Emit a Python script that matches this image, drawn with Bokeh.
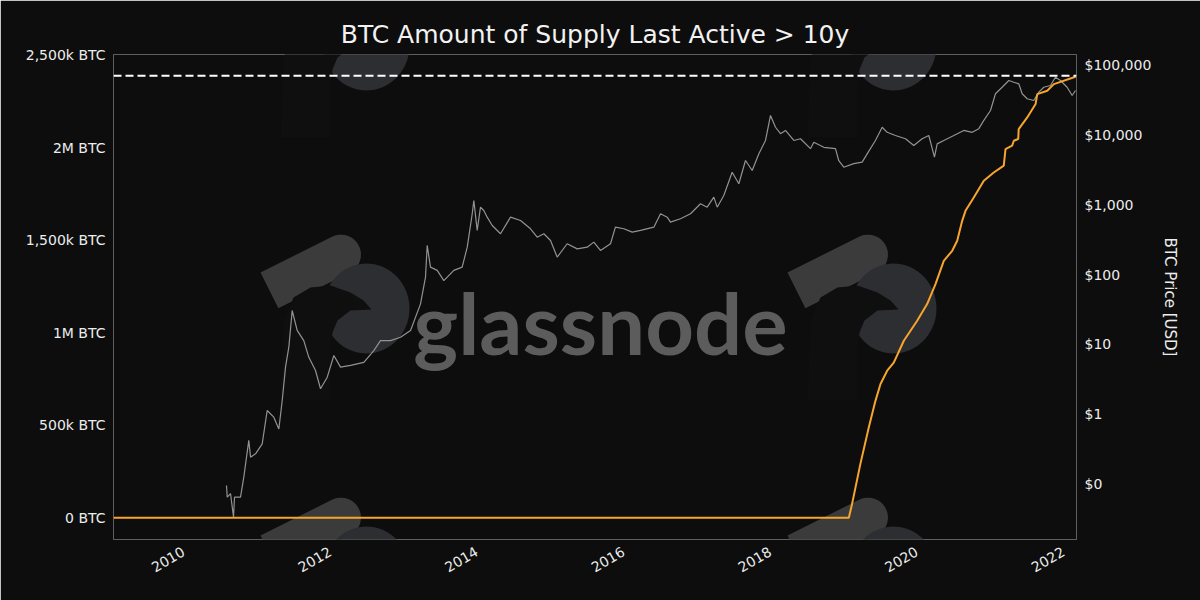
import numpy as np
from bokeh.plotting import figure
from bokeh.models import (Range1d, LogScale, LogAxis, FixedTicker,
                          NumeralTickFormatter, Span)
from bokeh.embed import file_html
from bokeh.resources import INLINE
from bokeh.core.properties import value

# ---------------- data ----------------
title_text = "BTC Amount of Supply Last Active > 10y"

year_ticks = [2010, 2012, 2014, 2016, 2018, 2020, 2022]
year_labels = ["2010", "2012", "2014", "2016", "2018", "2020", "2022"]

btc_ticks = [0, 500000, 1000000, 1500000, 2000000, 2500000]
btc_tick_labels = ["0 BTC", "500k BTC", "1M BTC", "1,500k BTC", "2M BTC", "2,500k BTC"]

price_ticks = [0.1, 1, 10, 100, 1000, 10000, 100000]

# supply last active > 10y (thousand BTC)
supply_year = [2009.045, 2019.073, 2019.117, 2019.23, 2019.345, 2019.436, 2019.505,
               2019.596, 2019.686, 2019.823, 2020.005, 2020.141, 2020.255, 2020.368,
               2020.483, 2020.551, 2020.619, 2020.664, 2020.777, 2020.914, 2021.05,
               2021.186, 2021.21, 2021.30, 2021.323, 2021.383, 2021.39, 2021.506,
               2021.62, 2021.643, 2021.779, 2021.869, 2022.165]
supply_btc_k = [0, 0, 74, 290, 488, 632, 723, 795, 839, 957, 1065, 1155, 1263, 1389,
                1443, 1497, 1605, 1659, 1731, 1822, 1866, 1903, 1993, 2011, 2038, 2047,
                2101, 2164, 2236, 2290, 2308, 2344, 2384]

threshold_k = 2389

# BTC price (USD)
price_year = [2010.586, 2010.596, 2010.641, 2010.682, 2010.695, 2010.777, 2010.822, 2010.89,
              2010.914, 2010.982, 2011.073, 2011.141, 2011.231, 2011.30, 2011.346, 2011.391,
              2011.436, 2011.482, 2011.55, 2011.64, 2011.709, 2011.80, 2011.868, 2011.96,
              2012.05, 2012.141, 2012.277, 2012.459, 2012.595, 2012.686, 2012.823, 2012.959,
              2013.096, 2013.232, 2013.30, 2013.323, 2013.368, 2013.46, 2013.55, 2013.686,
              2013.80, 2013.869, 2013.937, 2013.959, 2014.005, 2014.05, 2014.095, 2014.141,
              2014.21, 2014.323, 2014.459, 2014.596, 2014.732, 2014.823, 2014.914, 2015.005,
              2015.096, 2015.232, 2015.369, 2015.505, 2015.595, 2015.686, 2015.823, 2015.89,
              2016.005, 2016.119, 2016.232, 2016.414, 2016.505, 2016.596, 2016.641, 2016.777,
              2016.914, 2017.05, 2017.141, 2017.232, 2017.278, 2017.368, 2017.482, 2017.573,
              2017.664, 2017.755, 2017.846, 2017.937, 2018.005, 2018.073, 2018.141, 2018.209,
              2018.323, 2018.414, 2018.55, 2018.595, 2018.732, 2018.891, 2018.936, 2019.004,
              2019.14, 2019.255, 2019.323, 2019.436, 2019.528, 2019.596, 2019.709, 2019.846,
              2019.959, 2020.073, 2020.164, 2020.241, 2020.278, 2020.368, 2020.505, 2020.641,
              2020.755, 2020.846, 2020.914, 2021.005, 2021.073, 2021.164, 2021.255, 2021.323,
              2021.391, 2021.437, 2021.505, 2021.595, 2021.664, 2021.732, 2021.823, 2021.891,
              2021.96, 2022.05, 2022.119, 2022.164]
price_usd = [0.094, 0.064, 0.072, 0.033, 0.064, 0.064, 0.124, 0.417, 0.240, 0.268, 0.373,
             1.12, 0.90, 0.61, 1.56, 4.69, 9.08, 30.5, 15.8, 11.3, 6.5, 4.2, 2.3, 3.37, 6.9,
             4.7, 4.97, 5.5, 8.1, 11.3, 11.3, 12.6, 15.8, 38, 92, 262, 128, 115, 82, 115, 128,
             247, 745, 1156, 430, 927, 831, 666, 506, 385, 666, 597, 454, 344, 385, 308, 178,
             277, 234, 247, 292, 222, 277, 479, 454, 406, 430, 479, 745, 666, 565, 632, 745,
             1037, 927, 1290, 927, 1365, 2946, 2009, 4335, 3118, 5410, 8395, 19200, 13000,
             10500, 11700, 8400, 8900, 6400, 7900, 6700, 6400, 4300, 3470, 3900, 4100, 5400,
             8400, 13000, 11000, 9900, 8900, 7100, 8900, 9900, 4830, 7500, 8400, 9900, 11700,
             11000, 12400, 16300, 22600, 39300, 48800, 60900, 57500, 54600, 39300, 33300,
             31500, 41400, 48800, 51600, 67900, 60900, 48800, 37100, 43800]

# ---------------- figure ----------------
BG = "#0d0d0d"
TXT = "#ececec"
X0, X1 = 2009.045, 2022.178
Y0, Y1 = -117300, 2504000
FL, FT, FW, FH = 113, 54, 963, 485   # frame in page pixels

p = figure(frame_width=FW, frame_height=FH, output_backend="svg", toolbar_location=None,
           x_range=Range1d(X0, X1), y_range=Range1d(Y0, Y1),
           min_border_left=FL, min_border_right=1200 - FL - FW, min_border_top=FT,
           min_border_bottom=600 - FT - FH,
           background_fill_color=BG, border_fill_color=BG,
           outline_line_color="#5f5f5f", outline_line_width=1)
p.grid.visible = False

p.extra_y_ranges = {"price": Range1d(0.0158, 143800)}
p.extra_y_scales = {"price": LogScale()}

# watermark (decoration) in page-pixel space converted to data space
def wx(px):
    return X0 + (np.asarray(px, float) - FL) / FW * (X1 - X0)

def wy(py):
    return Y1 - (np.asarray(py, float) - FT) / FH * (Y1 - Y0)

u = np.array([0.894, -0.447])
n = np.array([0.447, 0.894])
a = np.array([260.0, 272.0])
cend = a + u * 80 + n * 20
ang = np.linspace(-np.pi / 2, np.pi / 2, 20)
base = np.arctan2(u[1], u[0])
arc = np.c_[cend[0] + 20 * np.cos(base + ang), cend[1] + 20 * np.sin(base + ang)]
band = np.vstack([a, arc, a + n * 40])
th = np.linspace(0, 2 * np.pi, 60)
circ = np.c_[366 + 43 * np.cos(th), 308 + 45 * np.sin(th)]
bird = np.array([(293, 297), (310, 287), (330, 285), (350, 292), (363, 300), (371, 309),
                 (350, 310), (337, 320), (332, 332), (330, 348), (330, 400), (280, 400),
                 (283, 320)], float)
for dx in (0, 527):
    for dy in (-263, 0, 263):
        for shape, col in ((band, "#3b3b3b"), (circ, "#2d2e32"), (bird, "#0f0f0f")):
            p.patch(wx(shape[:, 0] + dx), wy(shape[:, 1] + dy), fill_color=col,
                    line_color=None)

p.text(x=[wx(600)], y=[wy(321)], text=["glassnode"], text_font=value("Lato"),
       text_font_size="85px", text_font_style="bold", text_color="#5c5c5c",
       text_align="center", text_baseline="alphabetic")

# data
p.line(price_year, price_usd, y_range_name="price", line_color="#929292", line_width=1.2)
p.line(supply_year, [v * 1000 for v in supply_btc_k], line_color="#f7a52d", line_width=2)
p.add_layout(Span(location=threshold_k * 1000, dimension="width", line_color="white",
                  line_dash="8 4", line_width=2))

# axes
p.xaxis.ticker = FixedTicker(ticks=year_ticks)
p.xaxis.major_label_overrides = dict(zip(year_ticks, year_labels))
p.xaxis.major_label_orientation = np.pi / 6
p.yaxis.ticker = FixedTicker(ticks=btc_ticks)
p.yaxis.major_label_overrides = dict(zip(btc_ticks, btc_tick_labels))

rax = LogAxis(y_range_name="price", ticker=FixedTicker(ticks=price_ticks),
              formatter=NumeralTickFormatter(format="$0,0"),
              axis_label="BTC Price [USD]")
p.add_layout(rax, "right")

for ax in p.axis:
    ax.axis_line_color = None
    ax.major_tick_line_color = None
    ax.minor_tick_line_color = None
    ax.major_tick_out = 0
    ax.major_tick_in = 0
    ax.minor_tick_out = 0
    ax.minor_tick_in = 0
    ax.major_label_text_color = TXT
    ax.major_label_text_font = "DejaVu Sans"
    ax.major_label_text_font_size = "14px"
    ax.major_label_standoff = 8
p.xaxis.major_label_standoff = 11
rax.axis_label_text_color = TXT
rax.axis_label_text_font = "DejaVu Sans"
rax.axis_label_text_font_size = "15px"
rax.axis_label_text_font_style = "normal"
rax.axis_label_standoff = 7

p.title.text = title_text
p.title.align = "center"
p.title.text_font = "DejaVu Sans"
p.title.text_font_size = "25px"
p.title.text_font_style = "normal"
p.title.text_color = "#f2f2f2"
p.title.standoff = 12

html = file_html(p, INLINE)
open("out.html", "w").write(html)
